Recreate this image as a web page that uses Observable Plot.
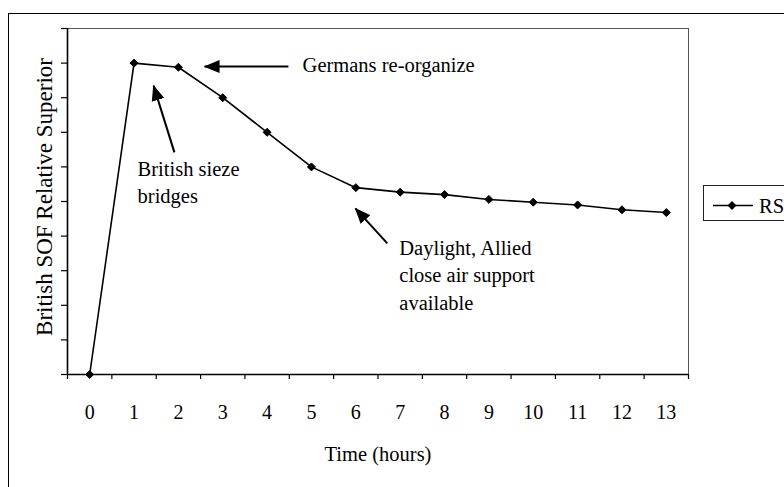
<!DOCTYPE html>
<html><head><meta charset="utf-8">
<script src="https://cdn.jsdelivr.net/npm/d3@7"></script>
<script src="https://cdn.jsdelivr.net/npm/@observablehq/plot@0.6"></script>
<style>
html,body{margin:0;padding:0;background:#fff;overflow:hidden;}
#wrap{position:relative;width:784px;height:487px;overflow:hidden;font-family:"Liberation Serif","Times New Roman",serif;background:#fff;}
#chart{position:absolute;left:0;top:0;}
#border{position:absolute;left:8px;top:13px;width:820px;height:520px;border:1.5px solid #000;box-sizing:border-box;}
#legend{position:absolute;left:703px;top:185px;width:120px;height:36px;border:1px solid #222;box-sizing:border-box;background:#fff;}
</style></head>
<body><div id="wrap"><div id="chart"></div><div id="border"></div><div id="legend"></div></div>
<script>
// ---- data ----
const hours = [0, 1, 2, 3, 4, 5, 6, 7, 8, 9, 10, 11, 12, 13];
const rsValues = [0, 9, 8.88, 8, 7, 6, 5.4, 5.27, 5.2, 5.06, 4.98, 4.9, 4.76, 4.68];
const seriesName = "RS";
const yTicks = [0, 1, 2, 3, 4, 5, 6, 7, 8, 9, 10];
const xBoundaries = [-0.5, 0.5, 1.5, 2.5, 3.5, 4.5, 5.5, 6.5, 7.5, 8.5, 9.5, 10.5, 11.5, 12.5, 13.5];
const xTitle = "Time (hours)";
const yTitle = "British SOF Relative Superior";
const noteText = ["Germans re-organize", "British sieze\nbridges", "Daylight, Allied\nclose air support\navailable"];
const noteX = [4.80, 1.08, 6.98];
const noteY = [9.30, 6.29, 4.01];
const arrowFromX = [4.48, 1.91, 6.71];
const arrowFromY = [8.9, 6.42, 3.79];
const arrowToX = [2.59, 1.44, 5.99];
const arrowToY = [8.9, 8.35, 4.80];

const data = hours.map((h, i) => ({hour: h, rs: rsValues[i]}));
const notes = noteText.map((t, i) => ({text: t, x: noteX[i], y: noteY[i]}));
const arrows = arrowFromX.map((x, i) => ({x1: x, y1: arrowFromY[i], x2: arrowToX[i], y2: arrowToY[i]}));

const FONT = '"Liberation Serif","Times New Roman",serif';

const chart = Plot.plot({
  width: 784, height: 487,
  marginLeft: 67, marginRight: 96, marginTop: 28, marginBottom: 113,
  x: {domain: [-0.5, 13.5]},
  y: {domain: [0, 10]},
  style: {fontFamily: FONT, fontSize: "20px", color: "#000", background: "transparent", overflow: "visible"},
  marks: [
    Plot.frame({stroke: "#555", strokeWidth: 1}),
    Plot.axisY({ticks: yTicks, tickFormat: () => "", tickSize: 6, label: null, strokeWidth: 1.2}),
    Plot.axisX({ticks: xBoundaries, tickFormat: () => "", tickSize: 5, label: null, strokeWidth: 1.2}),
    Plot.axisX({ticks: hours, tickSize: 0, tickPadding: 30, label: null, fontSize: 20}),
    Plot.ruleY([0], {strokeWidth: 1.6}),
    Plot.ruleX([-0.5], {strokeWidth: 1.6}),
    Plot.line(data, {x: "hour", y: "rs", stroke: "#000", strokeWidth: 1.6}),
    Plot.dot(data, {x: "hour", y: "rs", symbol: "diamond2", r: 3.6, fill: "#000", stroke: "#000", strokeWidth: 1}),
    Plot.link(arrows, {x1: "x1", y1: "y1", x2: "x2", y2: "y2", stroke: "#000", strokeWidth: 2}),
    Plot.text(notes, {x: "x", y: "y", text: "text", textAnchor: "start", lineAnchor: "top", lineHeight: 1.33, fontSize: 20.5, fill: "#000"}),
    Plot.text([yTitle], {text: d => d, frameAnchor: "left", textAnchor: "middle", lineAnchor: "middle", dx: -23, dy: -4.5, rotate: -90, fontSize: 23, fill: "#000"}),
    Plot.text([xTitle], {text: d => d, frameAnchor: "bottom", dy: 86, fontSize: 20.5, fill: "#000"})
  ]
});

// filled arrowheads
const svg = d3.select(chart);
svg.append("defs").append("marker")
  .attr("id", "ah").attr("markerUnits", "userSpaceOnUse")
  .attr("viewBox", "0 -7 16 14").attr("refX", 15).attr("refY", 0)
  .attr("markerWidth", 16).attr("markerHeight", 14).attr("orient", "auto")
  .append("path").attr("d", "M0,-6.5L16,0L0,6.5Z").attr("fill", "#000");
svg.selectAll('g[aria-label="link"] path').attr("marker-end", "url(#ah)");

document.getElementById("chart").appendChild(chart);

// legend
const lg = d3.select("#legend").append("svg").attr("width", 120).attr("height", 36);
lg.append("line").attr("x1", 9).attr("x2", 49).attr("y1", 19.5).attr("y2", 19.5).attr("stroke", "#000").attr("stroke-width", 1.6);
lg.append("path").attr("d", "M28,15L32.5,19.5L28,24L23.5,19.5Z").attr("fill", "#000");
lg.append("text").attr("x", 55).attr("y", 26.5).attr("font-family", FONT).attr("font-size", 20.5).text(seriesName);
</script>
</body></html>
